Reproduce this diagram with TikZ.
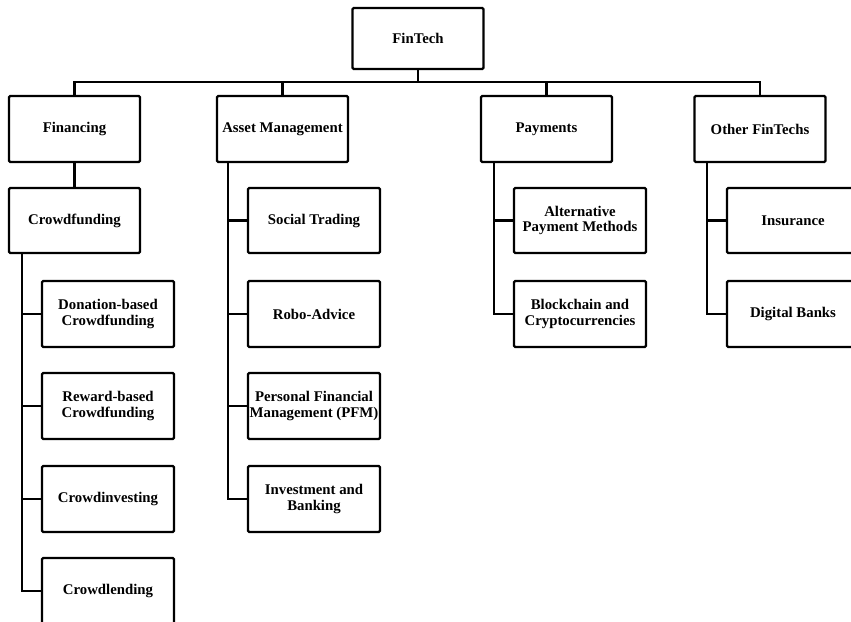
\documentclass[tikz,border=0pt]{standalone}
\usepackage{fontspec}
\setmainfont{Liberation Serif}
\begin{document}
\begin{tikzpicture}[x=1pt,y=-1pt,
  box/.style={draw=black, line width=2.3pt, rounded corners=1.2pt, fill=white,
    minimum width=131pt, minimum height=66pt, inner sep=0pt, align=center,
    font=\fontsize{14.8}{15.5}\selectfont\bfseries},
  link/.style={line width=2.2pt, draw=black}]
\useasboundingbox (0,0) rectangle (851,621);
% root
\node[box, minimum height=61pt] (ft) at (418,38.5) {FinTech};
% level 1
\node[box] (fin) at (74.5,129) {Financing};
\node[box] (am)  at (282.5,129) {Asset Management};
\node[box] (pay) at (546.5,129) {Payments};
\node[box] (oth) at (760,129) {Other FinTechs};
% financing branch
\node[box, minimum height=65pt] (cf) at (74.5,220.5) {Crowdfunding};
\node[box, minimum width=132pt] (don) at (108,314) {Donation-based\\Crowdfunding};
\node[box, minimum width=132pt] (rew) at (108,406) {Reward-based\\Crowdfunding};
\node[box, minimum width=132pt] (cinv) at (108,499) {Crowdinvesting};
\node[box, minimum width=132pt] (clen) at (108,591) {Crowdlending};
% asset management branch
\node[box, minimum width=132pt, minimum height=65pt] (st) at (314,220.5) {Social Trading};
\node[box, minimum width=132pt] (ra) at (314,314) {Robo-Advice};
\node[box, minimum width=132pt] (pfm) at (314,406) {Personal Financial\\Management (PFM)};
\node[box, minimum width=132pt] (ib) at (314,499) {Investment and\\Banking};
% payments branch
\node[box, minimum width=132pt, minimum height=65pt] (apm) at (580,220.5) {Alternative\\Payment Methods};
\node[box, minimum width=132pt] (bc) at (580,314) {Blockchain and\\Cryptocurrencies};
% other branch
\node[box, minimum width=132pt, minimum height=65pt] (ins) at (793,220.5) {Insurance};
\node[box, minimum width=132pt] (db) at (793,314) {Digital Banks};
% bus
\coordinate (bus) at (418,82);
\draw[link] (ft.south) -- (bus);
\draw[link] (fin.north) |- (bus);
\draw[link] (am.north) |- (bus);
\draw[link] (pay.north) |- (bus);
\draw[link] (oth.north) |- (bus);
\draw[link] (fin.south) -- (cf.north);
% branch connectors
\foreach \c in {don,rew,cinv,clen}
  \draw[link] ([xshift=14pt]cf.south west) |- (\c.west);
\foreach \c in {st,ra,pfm,ib}
  \draw[link] ([xshift=12pt]am.south west) |- (\c.west);
\foreach \c in {apm,bc}
  \draw[link] ([xshift=14pt]pay.south west) |- (\c.west);
\foreach \c in {ins,db}
  \draw[link] ([xshift=14pt]oth.south west) |- (\c.west);
\end{tikzpicture}
\end{document}
